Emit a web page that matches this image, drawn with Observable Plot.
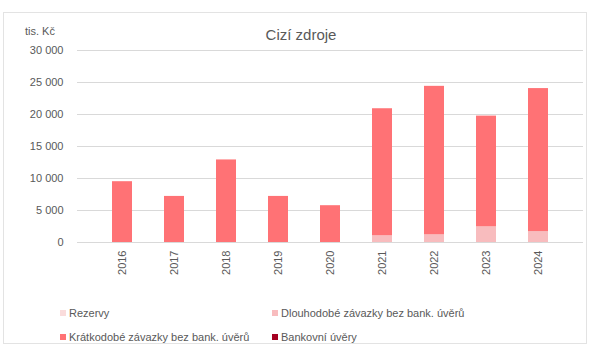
<!DOCTYPE html>
<html><head><meta charset="utf-8">
<script src="https://cdn.jsdelivr.net/npm/d3@7"></script>
<script src="https://cdn.jsdelivr.net/npm/@observablehq/plot@0.6"></script>
<style>
body{margin:0;background:#fff;font-family:"Liberation Sans",Arial,sans-serif;}
#wrap{position:relative;width:591px;height:350px;}
#frame{position:absolute;left:3px;top:12px;width:584px;height:332px;border:1px solid #e3e3e3;box-sizing:border-box;}
#title{position:absolute;left:0;width:602px;top:26px;text-align:center;font-size:15px;color:#595959;}
#unit{position:absolute;left:25px;top:25px;font-size:11px;color:#595959;}
#chart{position:absolute;left:0;top:0;}
.leg{position:absolute;font-size:11px;color:#595959;white-space:nowrap;}
.sw{display:inline-block;width:6px;height:6px;margin-right:3px;vertical-align:1px;}
</style></head>
<body><div id="wrap"><div id="frame"></div><div id="chart"></div><div id="title">Cizí zdroje</div><div id="unit">tis. Kč</div><div id="legend"></div></div>
<script>
const years = ["2016","2017","2018","2019","2020","2021","2022","2023","2024"];
const series = ["Rezervy","Dlouhodobé závazky bez bank. úvěrů","Krátkodobé závazky bez bank. úvěrů","Bankovní úvěry"];
const colors = ["#fadcdc","#f8bcbe","#ff7275","#a50021"];
const rezervy     = [0,0,0,0,0,0,0,0,0];
const dlouhodobe  = [0,0,0,0,0,1050,1200,2450,1700];
const kratkodobe  = [9500,7200,12900,7200,5750,19850,23200,17300,22350];
const bankovni    = [0,0,0,0,0,0,0,0,0];
const yTicks = [0,5000,10000,15000,20000,25000,30000];

const vals = [rezervy,dlouhodobe,kratkodobe,bankovni];
const data = [];
series.forEach((s,i)=>years.forEach((y,j)=>data.push({year:y,series:s,value:vals[i][j]})));

const fmt = v => d3.format(",")(v).replace(/,/g," ");
const plot = Plot.plot({
  width:591, height:290,
  marginLeft:77, marginRight:8, marginTop:50, marginBottom:48,
  style:{fontFamily:"Liberation Sans, Arial, sans-serif", fontSize:"11px", color:"#595959", background:"transparent"},
  x:{domain:years, padding:0.61, label:null, tickRotate:-90, tickSize:0, tickPadding:8},
  y:{domain:[0,30000], ticks:yTicks, tickFormat:fmt, label:null, tickSize:0, tickPadding:14},
  color:{domain:series, range:colors},
  marks:[
    Plot.gridY(yTicks,{stroke:"#d9d9d9", strokeOpacity:1}),
    Plot.barY(data,{x:"year", y:"value", fill:"series", order:series}),
    Plot.axisY({ticks:yTicks, tickFormat:fmt, tickSize:0, tickPadding:14, label:null}),
    Plot.axisX({tickRotate:-90, tickSize:0, tickPadding:8, label:null})
  ]
});
document.getElementById("chart").appendChild(plot);

const pos = [[60,307],[272,307],[60,331],[272,331]];
const leg = document.getElementById("legend");
series.forEach((s,i)=>{
  const d = document.createElement("div");
  d.className="leg"; d.style.left=pos[i][0]+"px"; d.style.top=pos[i][1]+"px";
  d.innerHTML = `<span class="sw" style="background:${colors[i]}"></span>${s}`;
  leg.appendChild(d);
});
</script></body></html>
